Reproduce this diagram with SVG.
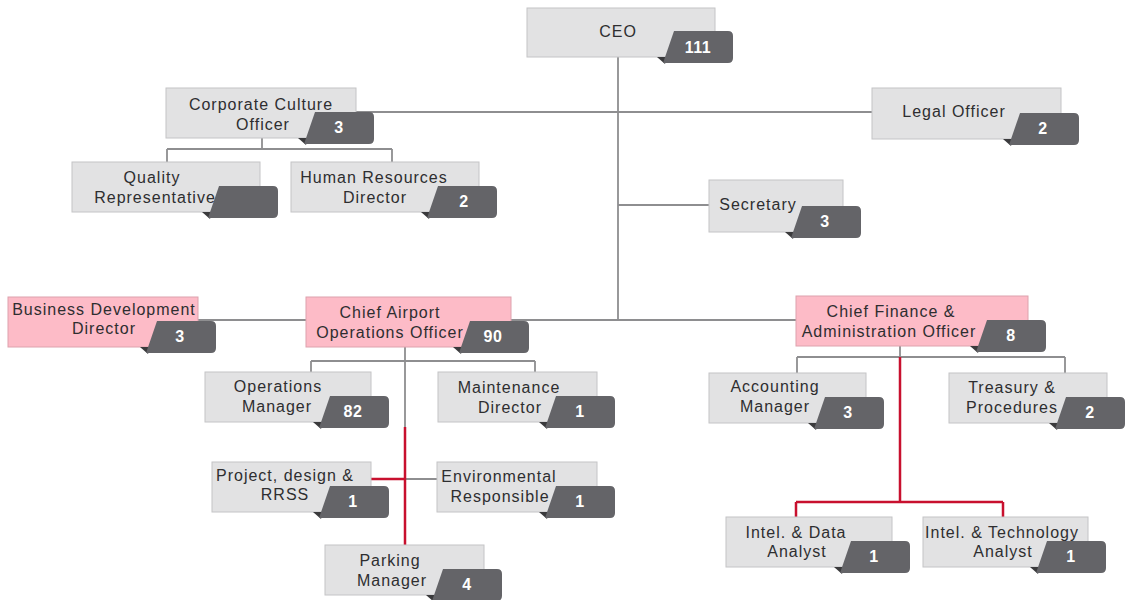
<svg xmlns="http://www.w3.org/2000/svg" xmlns:xlink="http://www.w3.org/1999/xlink" width="1127" height="600" viewBox="0 0 1127 600">
<style>
.box{fill:#e2e2e3;stroke:#c4c4c6;stroke-width:1}
.pink{fill:#fdbbc7;stroke:#dda2ad;stroke-width:1}
.lbl{font-family:"Liberation Sans",Arial,sans-serif;font-size:16px;letter-spacing:1px;fill:#2e2e30;text-anchor:middle}
.num{font-family:"Liberation Sans",Arial,sans-serif;font-size:16px;font-weight:bold;letter-spacing:0.5px;fill:#ffffff;text-anchor:middle}
.g{fill:none;stroke:#8e8e90;stroke-width:1.8}
.r{fill:none;stroke:#c8102e;stroke-width:2.5}
</style>
<defs>
<g id="badge">
<path d="M-58,0 L-48,0 L-50,7 Z" fill="#3a3a3c"/>
<path d="M-41,-26 L13,-26 Q18,-26 18,-21 L18,1 Q18,6 13,6 L-52,6 Z" fill="#646468"/>
</g>
</defs>
<rect width="1127" height="600" fill="#ffffff"/>
<g id="connectors">
<path class="g" d="M618,57 V320 M356,112 H872 M618,205 H709 M198,320 H796"/>
<path class="g" d="M262,138 V149 M167,149 H392 M167,149 V162 M392,149 V162"/>
<path class="g" d="M405,347 V427 M311,361 H535 M311,361 V372 M535,361 V372 M405,479 H437"/>
<path class="g" d="M900,346 V357 M797,357 H1065 M797,357 V373 M1065,357 V373"/>
<path class="r" d="M405,427 V545 M371,479 H405"/>
<path class="r" d="M900,357 V502 M796,502 H1003 M796,502 V517 M1003,502 V517"/>
</g>
<g id="n-ceo"><rect class="box" x="527" y="8" width="188" height="49"/><use href="#badge" transform="translate(715,57)"/><text class="lbl" x="618" y="37">CEO</text><text class="num" x="698" y="53">111</text></g>
<g id="n-cco"><rect class="box" x="166" y="88" width="190" height="50"/><use href="#badge" transform="translate(356,138)"/><text class="lbl" x="261" y="110">Corporate Culture</text><text class="lbl" x="263" y="130">Officer</text><text class="num" x="339" y="133">3</text></g>
<g id="n-legal"><rect class="box" x="872" y="88" width="189" height="51"/><use href="#badge" transform="translate(1061,139)"/><text class="lbl" x="954" y="117">Legal Officer</text><text class="num" x="1043" y="134">2</text></g>
<g id="n-quality"><rect class="box" x="72" y="162" width="188" height="50"/><use href="#badge" transform="translate(260,212)"/><text class="lbl" x="152" y="183">Quality</text><text class="lbl" x="155" y="203">Representative</text></g>
<g id="n-hr"><rect class="box" x="291" y="162" width="188" height="50"/><use href="#badge" transform="translate(479,212)"/><text class="lbl" x="374" y="183">Human Resources</text><text class="lbl" x="375" y="203">Director</text><text class="num" x="464" y="207">2</text></g>
<g id="n-secretary"><rect class="box" x="709" y="180" width="134" height="52"/><use href="#badge" transform="translate(843,232)"/><text class="lbl" x="758" y="210">Secretary</text><text class="num" x="825" y="227">3</text></g>
<g id="n-bdd"><rect class="pink" x="8" y="297" width="190" height="50"/><use href="#badge" transform="translate(198,347)"/><text class="lbl" x="104" y="315">Business Development</text><text class="lbl" x="104" y="334">Director</text><text class="num" x="180" y="342">3</text></g>
<g id="n-caoo"><rect class="pink" x="306" y="297" width="205" height="50"/><use href="#badge" transform="translate(511,347)"/><text class="lbl" x="390" y="318">Chief Airport</text><text class="lbl" x="390" y="338">Operations Officer</text><text class="num" x="493" y="342">90</text></g>
<g id="n-cfao"><rect class="pink" x="796" y="296" width="232" height="50"/><use href="#badge" transform="translate(1028,346)"/><text class="lbl" x="891" y="317">Chief Finance &amp;</text><text class="lbl" x="889" y="337">Administration Officer</text><text class="num" x="1011" y="341">8</text></g>
<g id="n-opsmgr"><rect class="box" x="205" y="372" width="166" height="50"/><use href="#badge" transform="translate(371,422)"/><text class="lbl" x="278" y="392">Operations</text><text class="lbl" x="277" y="412">Manager</text><text class="num" x="353" y="417">82</text></g>
<g id="n-maint"><rect class="box" x="438" y="372" width="159" height="50"/><use href="#badge" transform="translate(597,422)"/><text class="lbl" x="509" y="393">Maintenance</text><text class="lbl" x="510" y="413">Director</text><text class="num" x="580" y="417">1</text></g>
<g id="n-project"><rect class="box" x="212" y="462" width="159" height="50"/><use href="#badge" transform="translate(371,512)"/><text class="lbl" x="285" y="481">Project, design &amp;</text><text class="lbl" x="285" y="500">RRSS</text><text class="num" x="353" y="507">1</text></g>
<g id="n-env"><rect class="box" x="437" y="462" width="160" height="50"/><use href="#badge" transform="translate(597,512)"/><text class="lbl" x="499" y="482">Environmental</text><text class="lbl" x="500" y="502">Responsible</text><text class="num" x="580" y="507">1</text></g>
<g id="n-parking"><rect class="box" x="325" y="545" width="159" height="50"/><use href="#badge" transform="translate(484,595)"/><text class="lbl" x="390" y="566">Parking</text><text class="lbl" x="392" y="586">Manager</text><text class="num" x="467" y="590">4</text></g>
<g id="n-acct"><rect class="box" x="709" y="373" width="157" height="50"/><use href="#badge" transform="translate(866,423)"/><text class="lbl" x="775" y="392">Accounting</text><text class="lbl" x="775" y="412">Manager</text><text class="num" x="848" y="418">3</text></g>
<g id="n-treasury"><rect class="box" x="949" y="373" width="158" height="50"/><use href="#badge" transform="translate(1107,423)"/><text class="lbl" x="1012" y="393">Treasury &amp;</text><text class="lbl" x="1012" y="413">Procedures</text><text class="num" x="1090" y="418">2</text></g>
<g id="n-inteldata"><rect class="box" x="726" y="517" width="166" height="50"/><use href="#badge" transform="translate(892,567)"/><text class="lbl" x="796" y="538">Intel. &amp; Data</text><text class="lbl" x="797" y="557">Analyst</text><text class="num" x="874" y="562">1</text></g>
<g id="n-inteltech"><rect class="box" x="923" y="517" width="165" height="50"/><use href="#badge" transform="translate(1088,567)"/><text class="lbl" x="1002" y="538">Intel. &amp; Technology</text><text class="lbl" x="1003" y="557">Analyst</text><text class="num" x="1071" y="562">1</text></g>
</svg>
